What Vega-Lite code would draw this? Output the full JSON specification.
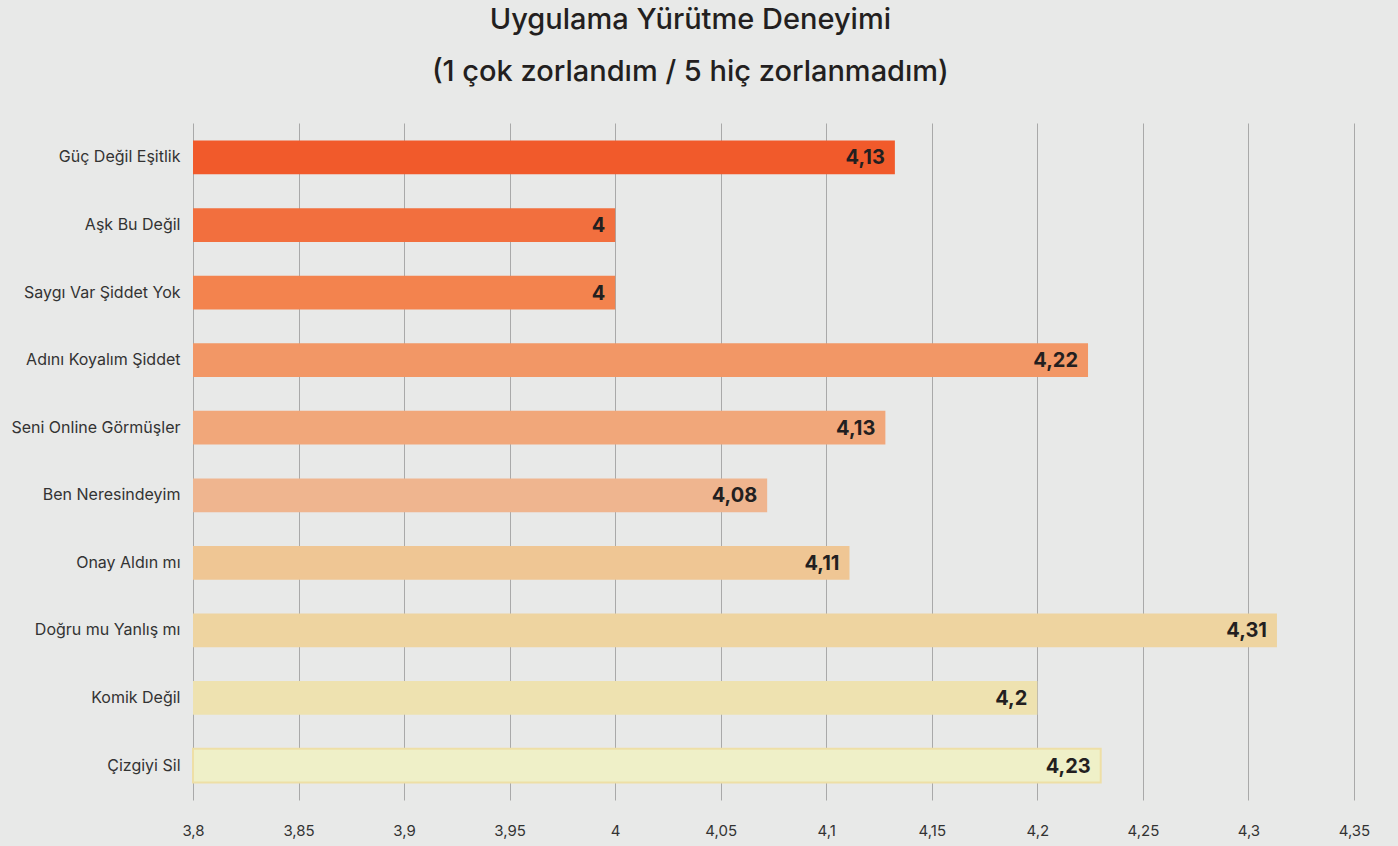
{
  "$schema": "https://vega.github.io/schema/vega-lite/v6.json",
  "autosize": {"type": "none"},
  "padding": {"left": 193, "top": 123, "right": 44, "bottom": 46},
  "width": 1161,
  "height": 677,
  "background": "#e8e9e8",
  "config": {
    "view": {"stroke": null},
    "font": "Inter"
  },
  "title": {
    "text": ["Uygulama Yürütme Deneyimi", "(1 çok zorlandım / 5 hiç zorlanmadım)"],
    "font": "Inter",
    "fontSize": 29,
    "fontWeight": 500,
    "color": "#231f20",
    "lineHeight": 52,
    "anchor": "middle",
    "frame": "bounds",
    "offset": 36
  },
  "data": {
    "values": [
      {"name": "Güç Değil Eşitlik", "value": 4.1325, "label": "4,13"},
      {"name": "Aşk Bu Değil", "value": 4.0, "label": "4"},
      {"name": "Saygı Var Şiddet Yok", "value": 4.0, "label": "4"},
      {"name": "Adını Koyalım Şiddet", "value": 4.224, "label": "4,22"},
      {"name": "Seni Online Görmüşler", "value": 4.128, "label": "4,13"},
      {"name": "Ben Neresindeyim", "value": 4.072, "label": "4,08"},
      {"name": "Onay Aldın mı", "value": 4.111, "label": "4,11"},
      {"name": "Doğru mu Yanlış mı", "value": 4.3135, "label": "4,31"},
      {"name": "Komik Değil", "value": 4.2, "label": "4,2"},
      {"name": "Çizgiyi Sil", "value": 4.23, "label": "4,23"}
    ]
  },
  "encoding": {
    "y": {
      "field": "name",
      "type": "nominal",
      "sort": null,
      "title": null,
      "scale": {"paddingInner": 0.5, "paddingOuter": 0.26},
      "axis": {
        "ticks": false,
        "domain": false,
        "labelFontSize": 16,
        "labelColor": "#333333",
        "labelPadding": 13,
        "labelFont": "Inter"
      }
    }
  },
  "layer": [
    {
      "mark": {"type": "bar", "strokeWidth": 2},
      "encoding": {
        "x": {
          "field": "value",
          "type": "quantitative",
          "title": null,
          "scale": {"domain": [3.8, 4.35], "nice": false, "zero": false},
          "axis": {
            "values": [3.8, 3.85, 3.9, 3.95, 4.0, 4.05, 4.1, 4.15, 4.2, 4.25, 4.3, 4.35],
            "labelExpr": "replace(format(datum.value, '.2~f'), '.', ',')",
            "grid": true,
            "gridColor": "#a9a9a9",
            "gridWidth": 1,
            "ticks": false,
            "domain": false,
            "labelFontSize": 15,
            "labelColor": "#333333",
            "labelPadding": 23,
            "labelFlush": false,
            "labelFont": "Inter"
          }
        },
        "x2": {"datum": 3.8},
        "color": {
          "field": "name",
          "type": "nominal",
          "legend": null,
          "scale": {
            "domain": ["Güç Değil Eşitlik", "Aşk Bu Değil", "Saygı Var Şiddet Yok", "Adını Koyalım Şiddet", "Seni Online Görmüşler", "Ben Neresindeyim", "Onay Aldın mı", "Doğru mu Yanlış mı", "Komik Değil", "Çizgiyi Sil"],
            "range": ["#f15a2b", "#f26f3e", "#f3834e", "#f29766", "#f1a77a", "#efb58f", "#efc694", "#eed4a0", "#eee2b0", "#eff0c8"]
          }
        },
        "stroke": {
          "condition": {"test": "datum.name === 'Çizgiyi Sil'", "value": "#eedfa6"},
          "value": null
        }
      }
    },
    {
      "mark": {"type": "text", "align": "right", "baseline": "middle", "dx": -10, "dy": 1, "fontSize": 20, "fontWeight": "bold", "color": "#231f20", "font": "Inter"},
      "encoding": {
        "x": {"field": "value", "type": "quantitative"},
        "text": {"field": "label", "type": "nominal"}
      }
    }
  ]
}
